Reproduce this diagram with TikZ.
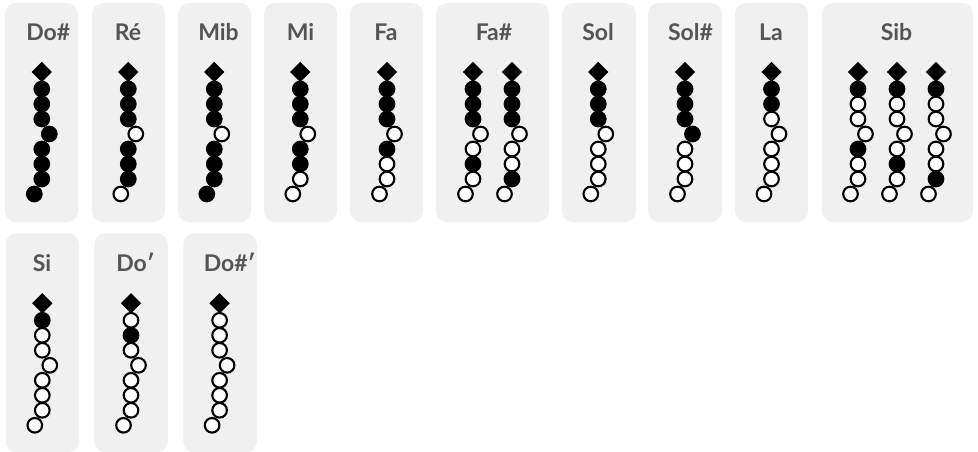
\documentclass[tikz,border=0pt]{standalone}
\usepackage{fontspec}
\newfontfamily\titlefont{Lato}
\usetikzlibrary{shapes.geometric}
\definecolor{panelgray}{HTML}{F0F0F0}
\definecolor{titlegray}{HTML}{555555}
\tikzset{
  panelbox/.style={fill=panelgray, draw=none, rounded corners=11pt, anchor=north west,
    minimum height=219pt, inner sep=0pt, outer sep=0pt},
  ttl/.style={font=\titlefont\bfseries\fontsize{23}{23}\selectfont, text=titlegray,
    anchor=base, inner sep=0pt},
  hole/.style={circle, draw=black, line width=2.1pt, minimum size=14.6pt, inner sep=0pt},
  keyd/.style={diamond, fill=black, draw=none, minimum size=20.5pt, inner sep=0pt}
}
\newcommand\fingcol[4]{%
  \node[keyd] (#1d) at (#2,#3) {};
  \foreach \f [count=\i] in {#4} {
    \pgfmathsetmacro\dx{(\i==4)*7.5-(\i==8)*7.5}
    \pgfmathsetmacro\yy{#3+17+15*(\i-1)}
    \ifnum\f=1
      \node[hole,fill=black] (#1h\i) at (#2+\dx,\yy) {};
    \else
      \node[hole,fill=white] (#1h\i) at (#2+\dx,\yy) {};
    \fi
  }%
}
\begin{document}
\begin{tikzpicture}[x=1pt,y=-1pt]
\useasboundingbox (0,0) rectangle (978,452);
% ---- panels, top row
\node[panelbox, minimum width=73pt]  (pA) at (5,3) {};
\node[panelbox, minimum width=73pt]  (pB) at (92,3) {};
\node[panelbox, minimum width=73pt]  (pC) at (178,3) {};
\node[panelbox, minimum width=73pt]  (pD) at (264,3) {};
\node[panelbox, minimum width=73pt]  (pE) at (350,3) {};
\node[panelbox, minimum width=113pt] (pF) at (436,3) {};
\node[panelbox, minimum width=74pt]  (pG) at (562,3) {};
\node[panelbox, minimum width=74pt]  (pH) at (648,3) {};
\node[panelbox, minimum width=73pt]  (pI) at (735,3) {};
\node[panelbox, minimum width=151pt] (pJ) at (822,3) {};
% ---- panels, bottom row
\node[panelbox, minimum width=73.5pt] (pK) at (5.7,233.3) {};
\node[panelbox, minimum width=73.5pt] (pL) at (94.3,233.3) {};
\node[panelbox, minimum width=73.5pt] (pM) at (183.3,233.3) {};
% ---- titles
\node[ttl] (tA) at (48.3,40.3) {Do\#};
\node[ttl] (tB) at (128,40.3) {Ré};
\node[ttl] (tC) at (218.5,40.3) {Mib};
\node[ttl] (tD) at (300.5,40.3) {Mi};
\node[ttl] (tE) at (386,40.3) {Fa};
\node[ttl] (tF) at (494,40.3) {Fa\#};
\node[ttl] (tG) at (598,40.3) {Sol};
\node[ttl] (tH) at (690.5,40.3) {Sol\#};
\node[ttl] (tI) at (771,40.3) {La};
\node[ttl] (tJ) at (896.5,40.3) {Sib};
\node[ttl] (tK) at (42,271.3) {Si};
\node[ttl] (tL) at (135.5,271.3) {Do′};
\node[ttl] (tM) at (229.6,271.3) {Do\#′};
% ---- fingerings, top row
\fingcol{A}{41.8}{72}{1,1,1,1,1,1,1,1}
\fingcol{B}{128.3}{72}{1,1,1,0,1,1,1,0}
\fingcol{C}{214.3}{72}{1,1,1,0,1,1,1,1}
\fingcol{D}{300.3}{72}{1,1,1,0,1,1,0,0}
\fingcol{E}{387}{72}{1,1,1,0,1,0,0,0}
\fingcol{Fa}{473}{72}{1,1,1,0,0,1,0,0}
\fingcol{Fb}{512}{72}{1,1,1,0,0,0,1,0}
\fingcol{G}{598.3}{72}{1,1,1,0,0,0,0,0}
\fingcol{H}{685}{72}{1,1,1,1,0,0,0,0}
\fingcol{I}{771.5}{72}{1,1,0,0,0,0,0,0}
\fingcol{Ja}{858}{72}{1,0,0,0,1,0,0,0}
\fingcol{Jb}{897}{72}{1,0,0,0,0,1,0,0}
\fingcol{Jc}{936}{72}{1,0,0,0,0,0,1,0}
% ---- fingerings, bottom row
\fingcol{K}{42.3}{303.3}{1,0,0,0,0,0,0,0}
\fingcol{L}{131}{303.3}{0,1,0,0,0,0,0,0}
\fingcol{M}{219.6}{303.3}{0,0,0,0,0,0,0,0}
\end{tikzpicture}
\end{document}
